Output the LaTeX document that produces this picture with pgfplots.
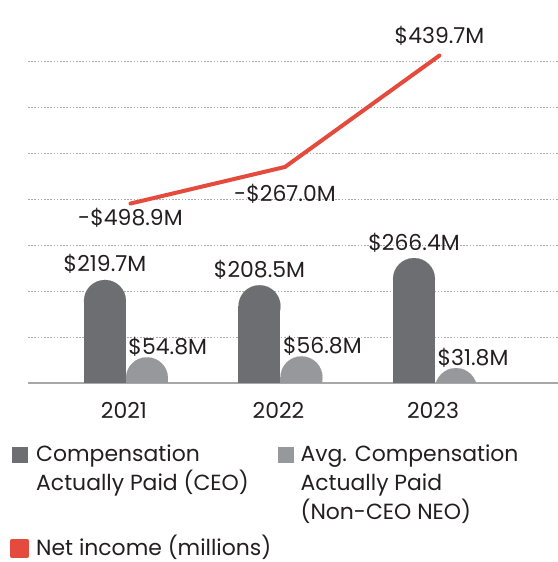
\documentclass[border=0pt]{standalone}
\usepackage{fontspec}
\setmainfont{Poppins}
\usepackage{pgfplots}
\usepackage{pgfplotstable}
\pgfplotsset{compat=1.18}
\definecolor{ceo}{HTML}{6D6E71}
\definecolor{neo}{HTML}{97989B}
\definecolor{ni}{HTML}{E54B3C}
\definecolor{gridc}{HTML}{ABABAB}
\definecolor{basec}{HTML}{A8A8A8}
\definecolor{txt}{HTML}{231F20}
\newcommand\lbl{\fontsize{22}{29}\selectfont}
\pgfplotstableread{
x v lab
0 219.7 \$219.7M
1 208.5 \$208.5M
2 266.4 \$266.4M
}\ceodata
\pgfplotstableread{
x v lab
0 54.8 \$54.8M
1 56.8 \$56.8M
2 31.8 \$31.8M
}\neodata
\pgfplotstableread{
x v lab dy
0 -498.9 -\$498.9M -21.5
1 -267.0 -\$267.0M -35
2 439.7 \$439.7M 12.5
}\nidata
\begin{document}
\begin{tikzpicture}
\useasboundingbox (-28bp,-179bp) rectangle (530bp,383bp);
% grid, baseline, bar labels
\begin{axis}[
  scale only axis, width=530bp, height=363bp,
  xmin=-0.634, xmax=2.796, ymin=0, ymax=774,
  axis x line*=bottom, axis y line*=left,
  x axis line style={draw=basec, line width=1.5bp, -},
  y axis line style={draw=none},
  ytick={98,196,294,392,490,588,686}, yticklabels={},
  ymajorgrids, grid style={draw=gridc, line width=0.8bp, dash pattern=on 1.6bp off 1.6bp},
  xtick={0,1,2}, xticklabels={2021,2022,2023},
  major tick length=0pt,
  xticklabel style={anchor=base, yshift=-35bp, xshift=-2bp, font=\lbl, text=txt},
  clip=false,
]
\addplot[draw=none, mark=none, nodes near coords, point meta=explicit symbolic,
  every node near coord/.style={anchor=base, xshift=-21bp, yshift=8bp, text=txt, font=\lbl}]
  table[x=x, y=v, meta=lab] \ceodata;
\addplot[draw=none, mark=none, nodes near coords, point meta=explicit symbolic,
  every node near coord/.style={anchor=base west, xshift=-1bp, yshift=3bp, text=txt, font=\lbl}]
  table[x=x, y=v, meta=lab] \neodata;
\end{axis}
% bars with round tops: a 42bp comb up to the centre of the top circle, cut at the baseline
\begin{scope}
\clip (-28bp,0bp) rectangle (530bp,383bp);
\begin{axis}[
  scale only axis, width=530bp, height=386.45bp, at={(0bp,-23.45bp)}, anchor=south west,
  xmin=-0.634, xmax=2.796, ymin=-50, ymax=774,
  hide axis, clip=false,
]
\addplot[ycomb, draw=ceo, line width=42bp, mark=*, mark size=21bp,
  mark options={solid, draw=ceo, fill=ceo, line width=0.1bp}]
  table[x expr=\thisrow{x}-0.1359, y expr=\thisrow{v}-44.78] \ceodata;
\addplot[ycomb, draw=neo, line width=42bp, mark=*, mark size=21bp,
  mark options={solid, draw=neo, fill=neo, line width=0.1bp}]
  table[x expr=\thisrow{x}+0.1359, y expr=\thisrow{v}-44.78] \neodata;
\end{axis}
\end{scope}
% net income line and legend
\begin{axis}[
  scale only axis, width=530bp, height=363bp,
  xmin=-0.663, xmax=2.767, ymin=-1637, ymax=665,
  hide axis, clip=false,
  legend image code/.code={\fill[#1] (0bp,0bp) rectangle (15bp,15bp);},
  legend style={draw=none, fill=none, legend columns=2, at={(-0.0396,-0.1598)}, anchor=north west,
    font=\lbl, text=txt, cells={anchor=base west, inner sep=0pt},
    /tikz/every odd column/.style={column sep=5bp},
    /tikz/every even column/.style={column sep=10bp},
    row sep=68bp},
]
\addlegendimage{ceo}
\addlegendentry{\parbox[t]{230bp}{\raggedright Compensation\\Actually Paid (CEO)}}
\addlegendimage{neo}
\addlegendentry{\parbox[t]{250bp}{\raggedright Avg. Compensation\\Actually Paid\\(Non-CEO NEO)}}
\addplot[ni, line width=4bp, line cap=round, line join=round, mark=none,
  nodes near coords, point meta=explicit symbolic,
  visualization depends on={\thisrow{dy}\as\dy},
  every node near coord/.style={anchor=base, yshift=\dy bp, text=txt, font=\lbl}]
  table[x=x, y=v, meta=lab] \nidata;
\addlegendentry{\makebox[230bp][l]{Net income (millions)}}
\end{axis}
\end{tikzpicture}
\end{document}
